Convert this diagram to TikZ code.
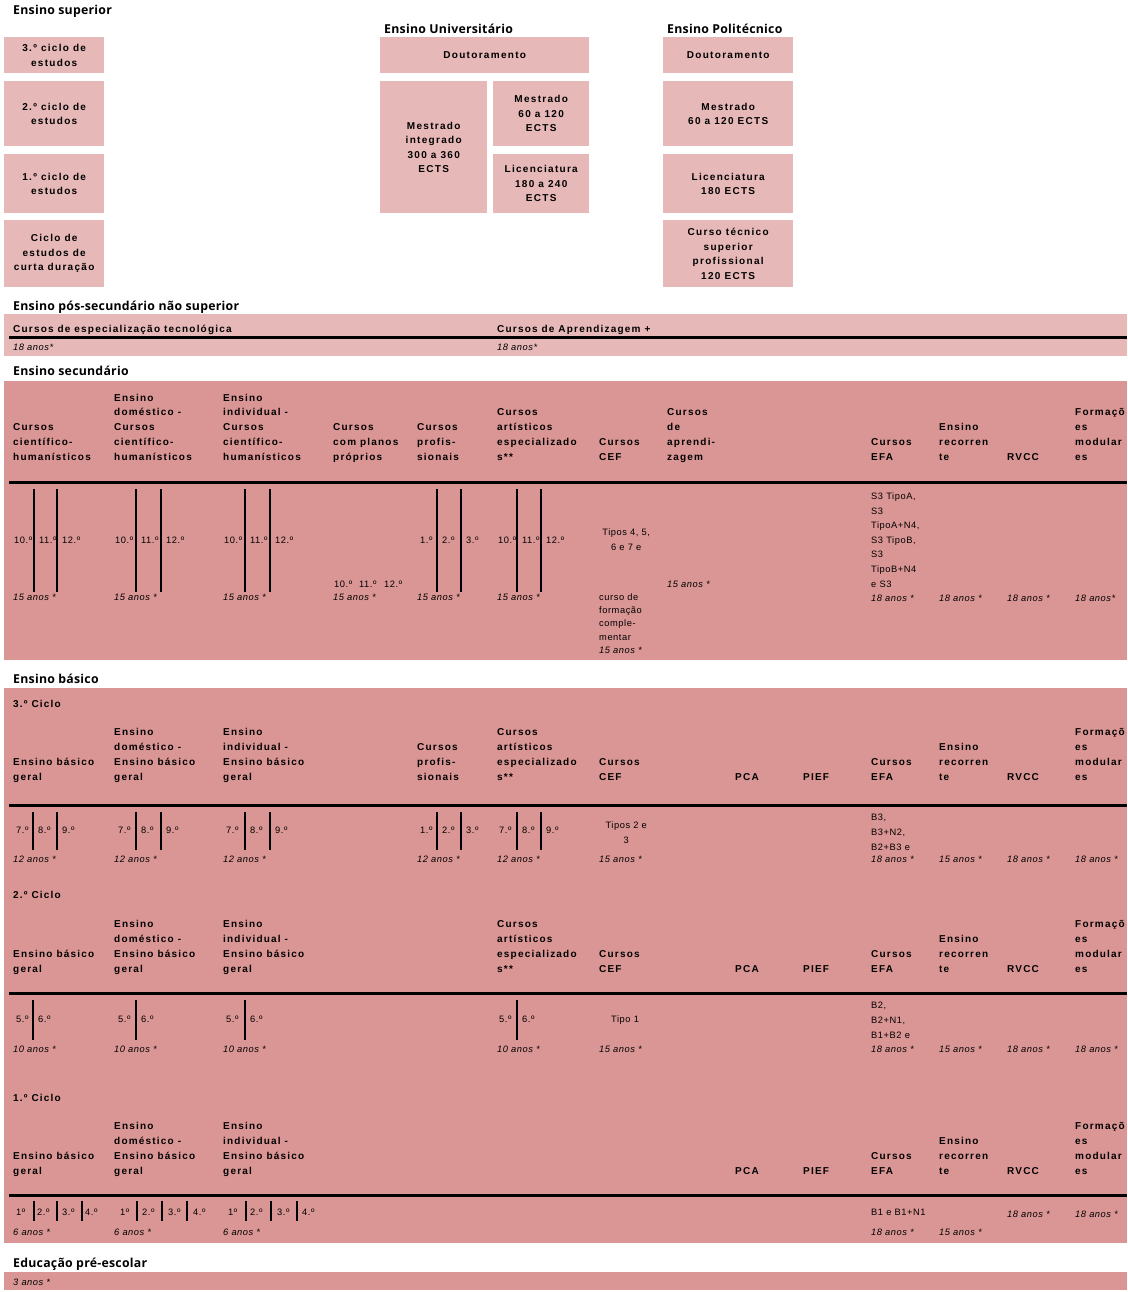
\documentclass[tikz,border=0pt]{standalone}
\usepackage{fontspec}
\setmainfont{Liberation Sans}
\newfontfamily\lsfont[LetterSpace=12]{Liberation Sans}
\newfontfamily\bxfont[LetterSpace=13]{Liberation Sans}
\newfontfamily\bdfont[LetterSpace=6]{Liberation Sans}
\newfontfamily\ttlfont[LetterSpace=2]{Open Sans}
\definecolor{lightpink}{RGB}{230,184,183}
\definecolor{darkpink}{RGB}{218,150,148}
\newcount\nc
\newcommand\tx[3][bd]{\global\advance\nc by 1\relax\node[#1] (n\the\nc) at (#2) {#3};}
\newcommand\hdr[3]{\tx[hd]{#1,#2}{\parbox[b]{110pt}{\raggedright #3}}}
\newcommand\mln[3]{\tx[bd]{#1,#2}{\parbox[b]{110pt}{\raggedright #3}}}
\newcommand\grow[2]{\foreach \x/\lab in {#2} {\tx{\x,#1}{\lab}}}
\newcommand\bars[4][bar]{\foreach \x in {#4} {\draw[#1] (\x,#2) -- (\x,#3);}}
\tikzset{
  box/.style={fill=lightpink, inner sep=0pt, align=center, anchor=north west,
    font=\bxfont\bfseries\fontsize{10}{14.5}\selectfont},
  ttl/.style={font=\ttlfont\bfseries\fontsize{12.3}{14}\selectfont, anchor=base west, inner sep=0pt},
  hd/.style={font=\lsfont\bfseries\fontsize{10}{14.7}\selectfont, anchor=base west, inner sep=0pt},
  bd/.style={font=\bdfont\fontsize{9.3}{14.6}\selectfont, anchor=base west, inner sep=0pt},
  bdn/.style={font=\bdfont\fontsize{9.3}{13.3}\selectfont, anchor=base west, inner sep=0pt},
  ag/.style={font=\bdfont\itshape\fontsize{9.3}{14.6}\selectfont, anchor=base west, inner sep=0pt},
  bar/.style={line width=2pt},
  tbar/.style={line width=2.8pt},
  rulel/.style={line width=3pt},
}
\begin{document}
\begin{tikzpicture}[x=1pt,y=-1pt]
\useasboundingbox (0,0) rectangle (1127,1292);
% ---------------- Ensino superior
\node[ttl] (tsup) at (13,14.5) {Ensino superior};
\node[ttl] (tuni) at (384,33.5) {Ensino Universitário};
\node[ttl] (tpol) at (667,33.5) {Ensino Politécnico};
\node[box, minimum width=100, minimum height=36] (c3) at (4,37) {3.º ciclo de\\estudos};
\node[box, minimum width=100, minimum height=65] (c2) at (4,81) {2.º ciclo de\\estudos};
\node[box, minimum width=100, minimum height=59] (c1) at (4,154) {1.º ciclo de\\estudos};
\node[box, minimum width=100, minimum height=67] (cc) at (4,220) {Ciclo de\\estudos de\\curta duração};
\node[box, minimum width=209, minimum height=36] (ud) at (380,37) {Doutoramento};
\node[box, minimum width=107, minimum height=132] (umi) at (380,81) {Mestrado\\integrado\\300 a 360\\ECTS};
\node[box, minimum width=96, minimum height=65] (um) at (493,81) {Mestrado\\60 a 120\\ECTS};
\node[box, minimum width=96, minimum height=59] (ul) at (493,154) {Licenciatura\\180 a 240\\ECTS};
\node[box, minimum width=130, minimum height=36] (pd) at (663,37) {Doutoramento};
\node[box, minimum width=130, minimum height=65] (pm) at (663,81) {Mestrado\\60 a 120 ECTS};
\node[box, minimum width=130, minimum height=59] (pl) at (663,154) {Licenciatura\\180 ECTS};
\node[box, minimum width=130, minimum height=67] (pc) at (663,220) {Curso técnico\\superior\\profissional\\120 ECTS};
% ---------------- bands
\fill[lightpink] (4,314) rectangle (1127,356);
\fill[darkpink] (4,381) rectangle (1127,660);
\fill[darkpink] (4,688) rectangle (1127,1243);
\fill[darkpink] (4,1272) rectangle (1127,1290);
\draw[rulel] (9,337) -- (1127,337);
\draw[rulel] (9,482) -- (1127,482);
\draw[rulel] (9,805) -- (1127,805);
\draw[rulel] (9,993) -- (1127,993);
\draw[rulel] (9,1195) -- (1127,1195);
% ---------------- pos-secundario
\node[ttl] (tpos) at (13,310.5) {Ensino pós-secundário não superior};
\tx[hd]{13,332}{Cursos de especialização tecnológica}
\tx[hd]{497,332}{Cursos de Aprendizagem +}
\tx[ag]{13,350}{18 anos*}
\tx[ag]{497,350}{18 anos*}
% ---------------- secundario
\node[ttl] (tsec) at (13,375.5) {Ensino secundário};
\hdr{13}{460}{Cursos\\científico-\\humanísticos}
\hdr{114}{460}{Ensino\\doméstico -\\Cursos\\científico-\\humanísticos}
\hdr{223}{460}{Ensino\\individual -\\Cursos\\científico-\\humanísticos}
\hdr{333}{460}{Cursos\\com planos\\próprios}
\hdr{417}{460}{Cursos\\profis-\\sionais}
\hdr{497}{460}{Cursos\\artísticos\\especializado\\s**}
\hdr{599}{460}{Cursos\\CEF}
\hdr{667}{460}{Cursos\\de\\aprendi-\\zagem}
\hdr{871}{460}{Cursos\\EFA}
\hdr{939}{460}{Ensino\\recorren\\te}
\hdr{1007}{460}{RVCC}
\hdr{1075}{460}{Formaçõ\\es\\modular\\es}
\grow{543}{14/10.º,39/11.º,62/12.º, 115/10.º,141/11.º,166/12.º, 224/10.º,250/11.º,275/12.º, 420/1.º,442/2.º,466/3.º, 498/10.º,522/11.º,546/12.º}
\grow{587}{334/10.º,359/11.º,384/12.º}
\bars{489}{592}{34,57,136,161,245,270,437,461}
\bars[tbar]{489}{592}{517,541}
\foreach \x in {13,114,223,333,417,497} {\tx[ag]{\x,600}{15 anos *}}
\tx{597,550}{\parbox[b]{58pt}{\centering Tipos 4, 5,\\6 e 7 e}}
\tx[bdn]{599,640}{\parbox[b]{110pt}{\raggedright curso de\\formação\\comple-\\mentar}}
\tx[ag]{599,653}{15 anos *}
\tx[ag]{667,587}{15 anos *}
\mln{871}{587}{S3 TipoA,\\S3\\TipoA+N4,\\S3 TipoB,\\S3\\TipoB+N4\\e S3}
\tx[ag]{871,601}{18 anos *}
\tx[ag]{939,601}{18 anos *}
\tx[ag]{1007,601}{18 anos *}
\tx[ag]{1075,601}{18 anos*}
% ---------------- basico
\node[ttl] (tbas) at (13,683.5) {Ensino básico};
% 3.o ciclo
\tx[hd]{13,707}{3.º Ciclo}
\hdr{13}{780}{Ensino básico\\geral}
\hdr{114}{780}{Ensino\\doméstico -\\Ensino básico\\geral}
\hdr{223}{780}{Ensino\\individual -\\Ensino básico\\geral}
\hdr{417}{780}{Cursos\\profis-\\sionais}
\hdr{497}{780}{Cursos\\artísticos\\especializado\\s**}
\hdr{599}{780}{Cursos\\CEF}
\hdr{735}{780}{PCA}
\hdr{803}{780}{PIEF}
\hdr{871}{780}{Cursos\\EFA}
\hdr{939}{780}{Ensino\\recorren\\te}
\hdr{1007}{780}{RVCC}
\hdr{1075}{780}{Formaçõ\\es\\modular\\es}
\grow{833}{16/7.º,38/8.º,62/9.º, 118/7.º,141/8.º,166/9.º, 226/7.º,250/8.º,275/9.º, 420/1.º,442/2.º,466/3.º, 499/7.º,522/8.º,546/9.º}
\bars{812}{850}{33,57,136,161,245,270,437,461}
\bars[tbar]{812}{850}{517,541}
\foreach \x in {13,114,223,417,497} {\tx[ag]{\x,862}{12 anos *}}
\tx{597,843}{\parbox[b]{58pt}{\centering Tipos 2 e\\3}}
\tx[ag]{599,862}{15 anos *}
\mln{871}{850}{B3,\\B3+N2,\\B2+B3 e}
\tx[ag]{871,862}{18 anos *}
\tx[ag]{939,862}{15 anos *}
\tx[ag]{1007,862}{18 anos *}
\tx[ag]{1075,862}{18 anos *}
% 2.o ciclo
\tx[hd]{13,898}{2.º Ciclo}
\hdr{13}{972}{Ensino básico\\geral}
\hdr{114}{972}{Ensino\\doméstico -\\Ensino básico\\geral}
\hdr{223}{972}{Ensino\\individual -\\Ensino básico\\geral}
\hdr{497}{972}{Cursos\\artísticos\\especializado\\s**}
\hdr{599}{972}{Cursos\\CEF}
\hdr{735}{972}{PCA}
\hdr{803}{972}{PIEF}
\hdr{871}{972}{Cursos\\EFA}
\hdr{939}{972}{Ensino\\recorren\\te}
\hdr{1007}{972}{RVCC}
\hdr{1075}{972}{Formaçõ\\es\\modular\\es}
\grow{1022}{16/5.º,38/6.º, 118/5.º,141/6.º, 226/5.º,250/6.º, 499/5.º,522/6.º}
\bars{1000}{1040}{33,136,245,517}
\foreach \x in {13,114,223,497} {\tx[ag]{\x,1052}{10 anos *}}
\tx{611,1022}{Tipo 1}
\tx[ag]{599,1052}{15 anos *}
\mln{871}{1038}{B2,\\B2+N1,\\B1+B2 e}
\tx[ag]{871,1052}{18 anos *}
\tx[ag]{939,1052}{15 anos *}
\tx[ag]{1007,1052}{18 anos *}
\tx[ag]{1075,1052}{18 anos *}
% 1.o ciclo
\tx[hd]{13,1101}{1.º Ciclo}
\hdr{13}{1174}{Ensino básico\\geral}
\hdr{114}{1174}{Ensino\\doméstico -\\Ensino básico\\geral}
\hdr{223}{1174}{Ensino\\individual -\\Ensino básico\\geral}
\hdr{735}{1174}{PCA}
\hdr{803}{1174}{PIEF}
\hdr{871}{1174}{Cursos\\EFA}
\hdr{939}{1174}{Ensino\\recorren\\te}
\hdr{1007}{1174}{RVCC}
\hdr{1075}{1174}{Formaçõ\\es\\modular\\es}
\grow{1215}{16/1º,37/2.º,62/3.º,85/4.º, 120/1º,142/2.º,168/3.º,193/4.º, 228/1º,250/2.º,277/3.º,302/4.º}
\bars{1201}{1221}{57,82,162,187,246,271}
\bars[tbar]{1201}{1221}{34,137,297}
\foreach \x in {13,114,223} {\tx[ag]{\x,1235}{6 anos *}}
\tx{871,1215}{B1 e B1+N1}
\tx[ag]{871,1235}{18 anos *}
\tx[ag]{939,1235}{15 anos *}
\tx[ag]{1007,1217}{18 anos *}
\tx[ag]{1075,1217}{18 anos *}
% ---------------- pre-escolar
\node[ttl] (tpre) at (13,1267.5) {Educação pré-escolar};
\tx[ag]{13,1285}{3 anos *}
\end{tikzpicture}
\end{document}
